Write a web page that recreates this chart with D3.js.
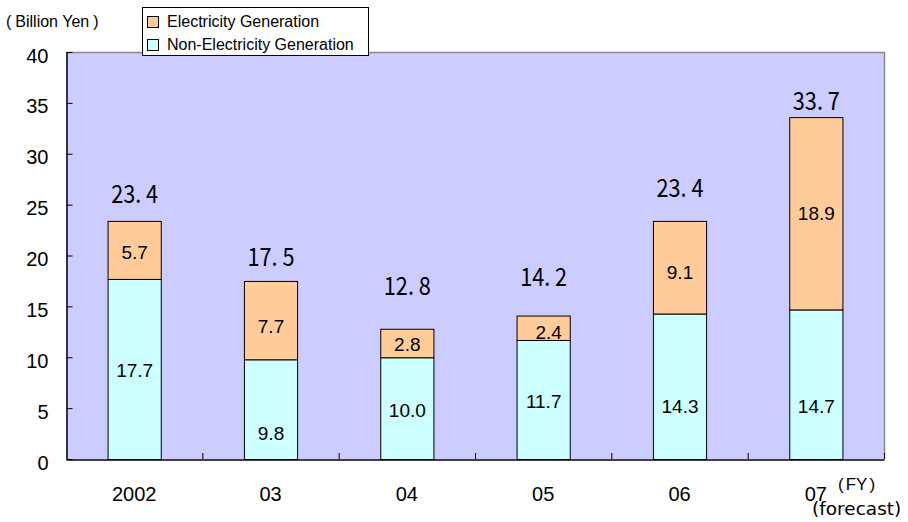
<!DOCTYPE html>
<html>
<head>
<meta charset="utf-8">
<script src="https://cdn.jsdelivr.net/npm/d3@7"></script>
<style>
  html, body { margin: 0; padding: 0; background: #fff; }
  svg { display: block; }
  text { font-family: "Liberation Sans", Arial, "Noto Sans CJK JP", sans-serif; fill: #000; }
</style>
</head>
<body>
<svg id="chart" width="908" height="522"></svg>
<script>
// Fiscal years and the two stacked components (billion yen)
const years = ["2002", "03", "04", "05", "06", "07"];
const nonElectricity = [17.7, 9.8, 10.0, 11.7, 14.3, 14.7];
const electricity = [5.7, 7.7, 2.8, 2.4, 9.1, 18.9];
const totals = [23.4, 17.5, 12.8, 14.2, 23.4, 33.7];
const yTicks = [0, 5, 10, 15, 20, 25, 30, 35, 40];
const seriesNames = ["Electricity Generation", "Non-Electricity Generation"];

// Hand-tuned label placement (pixels)
const totalGap = [18, 15, 34, 29, 24, 6];
const elecNudge = [2, 6, 1, 4, 5, 0];
const nonElecNudge = [1.5, 24, 2, 2, 20, 22];

const colElec = "#FFCC99";
const colNon = "#CCFFFF";
const colPlot = "#CCCCFF";

const svg = d3.select("#chart");
const plotLeft = 66, plotRight = 884, plotTop = 52, plotBottom = 459;

const x = d3.scaleBand().domain(years).range([plotLeft, plotRight]).paddingInner(0).paddingOuter(0);
const y = d3.scaleLinear().domain([0, 40]).range([plotBottom, plotTop]);
const barW = x.bandwidth() * 0.39;
const bx = d => x(d) + (x.bandwidth() - barW) / 2;

// Plot background
svg.append("rect")
  .attr("x", plotLeft).attr("y", plotTop)
  .attr("width", plotRight - plotLeft).attr("height", plotBottom - plotTop)
  .attr("fill", colPlot);

// Grey frame on top and right
svg.append("path")
  .attr("d", `M${plotLeft},${plotTop + 0.5}H${plotRight + 0.5}V${plotBottom}`)
  .attr("fill", "none").attr("stroke", "#8a8a8a").attr("stroke-width", 1.5);

// Stacked bars
const rows = years.map((yr, i) => ({ yr, i, non: nonElectricity[i], el: electricity[i], tot: totals[i] }));
const g = svg.append("g");

g.selectAll("rect.non").data(rows).join("rect")
  .attr("class", "non")
  .attr("x", d => bx(d.yr) + 0.5)
  .attr("y", d => y(d.non) + 0.5)
  .attr("width", barW)
  .attr("height", d => y(0) - y(d.non))
  .attr("fill", colNon).attr("stroke", "#000").attr("stroke-width", 1);

g.selectAll("rect.el").data(rows).join("rect")
  .attr("class", "el")
  .attr("x", d => bx(d.yr) + 0.5)
  .attr("y", d => y(d.non + d.el) + 0.5)
  .attr("width", barW)
  .attr("height", d => y(d.non) - y(d.non + d.el))
  .attr("fill", colElec).attr("stroke", "#000").attr("stroke-width", 1);

// Segment value labels
const fmt = d3.format(".1f");
g.selectAll("text.nonlab").data(rows).join("text")
  .attr("class", "nonlab")
  .attr("x", d => bx(d.yr) + barW / 2 + 0.5)
  .attr("y", d => (y(0) + y(d.non)) / 2 + nonElecNudge[d.i])
  .attr("dy", "0.36em")
  .attr("text-anchor", "middle")
  .style("font-size", "19px")
  .text(d => fmt(d.non));

g.selectAll("text.ellab").data(rows).join("text")
  .attr("class", "ellab")
  .attr("x", d => bx(d.yr) + barW / 2 + 0.5 + (d.el < 2.5 ? 5 : 0))
  .attr("y", d => (y(d.non) + y(d.non + d.el)) / 2 + elecNudge[d.i])
  .attr("dy", "0.36em")
  .attr("text-anchor", "middle")
  .style("font-size", "19px")
  .text(d => fmt(d.el));

// Totals above each bar (narrow gothic-style digits)
g.selectAll("text.tot").data(rows).join("text")
  .attr("class", "tot")
  .attr("x", d => bx(d.yr) + barW / 2 + 0.5)
  .attr("y", d => y(d.tot) - totalGap[d.i])
  .attr("text-anchor", "middle")
  .attr("textLength", 47)
  .attr("lengthAdjust", "spacingAndGlyphs")
  .style("font-family", "'Noto Sans CJK JP', sans-serif")
  .style("font-weight", 400)
  .style("font-size", "25px")
  .text(d => fmt(d.tot).replace(".", ". "));

// Y axis (ticks point inward)
const yAxis = svg.append("g")
  .attr("transform", `translate(${plotLeft + 0.5},0)`)
  .call(d3.axisLeft(y).tickValues(yTicks).tickSize(-6).tickPadding(18).tickSizeOuter(0));
yAxis.select(".domain").attr("stroke", "#000").attr("stroke-width", 1.5);
yAxis.selectAll(".tick line").attr("stroke", "#000");
yAxis.selectAll(".tick text")
  .attr("dy", "0.5em")
  .style("font-size", "20px")
  .style("font-family", "'Liberation Sans', Arial, sans-serif");

// X axis with category labels
const xAxis = svg.append("g")
  .attr("transform", `translate(0,${plotBottom + 0.5})`)
  .call(d3.axisBottom(x).tickSize(0).tickPadding(27).tickSizeOuter(0));
xAxis.select(".domain").attr("stroke", "#000").attr("stroke-width", 1.5);
xAxis.selectAll(".tick text")
  .style("font-size", "20px")
  .style("font-family", "'Liberation Sans', Arial, sans-serif");

// Category boundary ticks pointing up
svg.append("g").selectAll("line").data(years).join("line")
  .attr("x1", d => x(d) + x.bandwidth() + 0.5)
  .attr("x2", d => x(d) + x.bandwidth() + 0.5)
  .attr("y1", plotBottom)
  .attr("y2", plotBottom - 6)
  .attr("stroke", "#000");

// Unit label with widely spaced parentheses
const unit = svg.append("text")
  .attr("x", 6).attr("y", 27)
  .style("font-size", "16px");
unit.append("tspan").text("(");
unit.append("tspan").attr("dx", 4).text("Billion Yen");
unit.append("tspan").attr("dx", 4).text(")");

// Fiscal-year note at the end of the category axis
const fy = svg.append("text")
  .attr("x", 838).attr("y", 490)
  .style("font-size", "17px");
fy.append("tspan").text("(");
fy.append("tspan").attr("dx", 2).text("FY");
fy.append("tspan").attr("dx", 2).text(")");

svg.append("text")
  .attr("x", 812).attr("y", 515)
  .style("font-family", "'DejaVu Sans', sans-serif")
  .style("font-size", "18.5px")
  .text("(forecast)");

// Legend
const lg = svg.append("g");
lg.append("rect")
  .attr("x", 142.5).attr("y", 7.5).attr("width", 226).attr("height", 48)
  .attr("fill", "#fff").attr("stroke", "#000").attr("stroke-width", 1);
const legendColors = [colElec, colNon];
seriesNames.forEach((name, i) => {
  lg.append("rect")
    .attr("x", 147.5).attr("y", 16.5 + i * 23).attr("width", 11).attr("height", 11)
    .attr("fill", legendColors[i]).attr("stroke", "#000").attr("stroke-width", 1);
  lg.append("text")
    .attr("x", 167).attr("y", 27 + i * 23)
    .style("font-size", "16px")
    .text(name);
});
</script>
</body>
</html>
